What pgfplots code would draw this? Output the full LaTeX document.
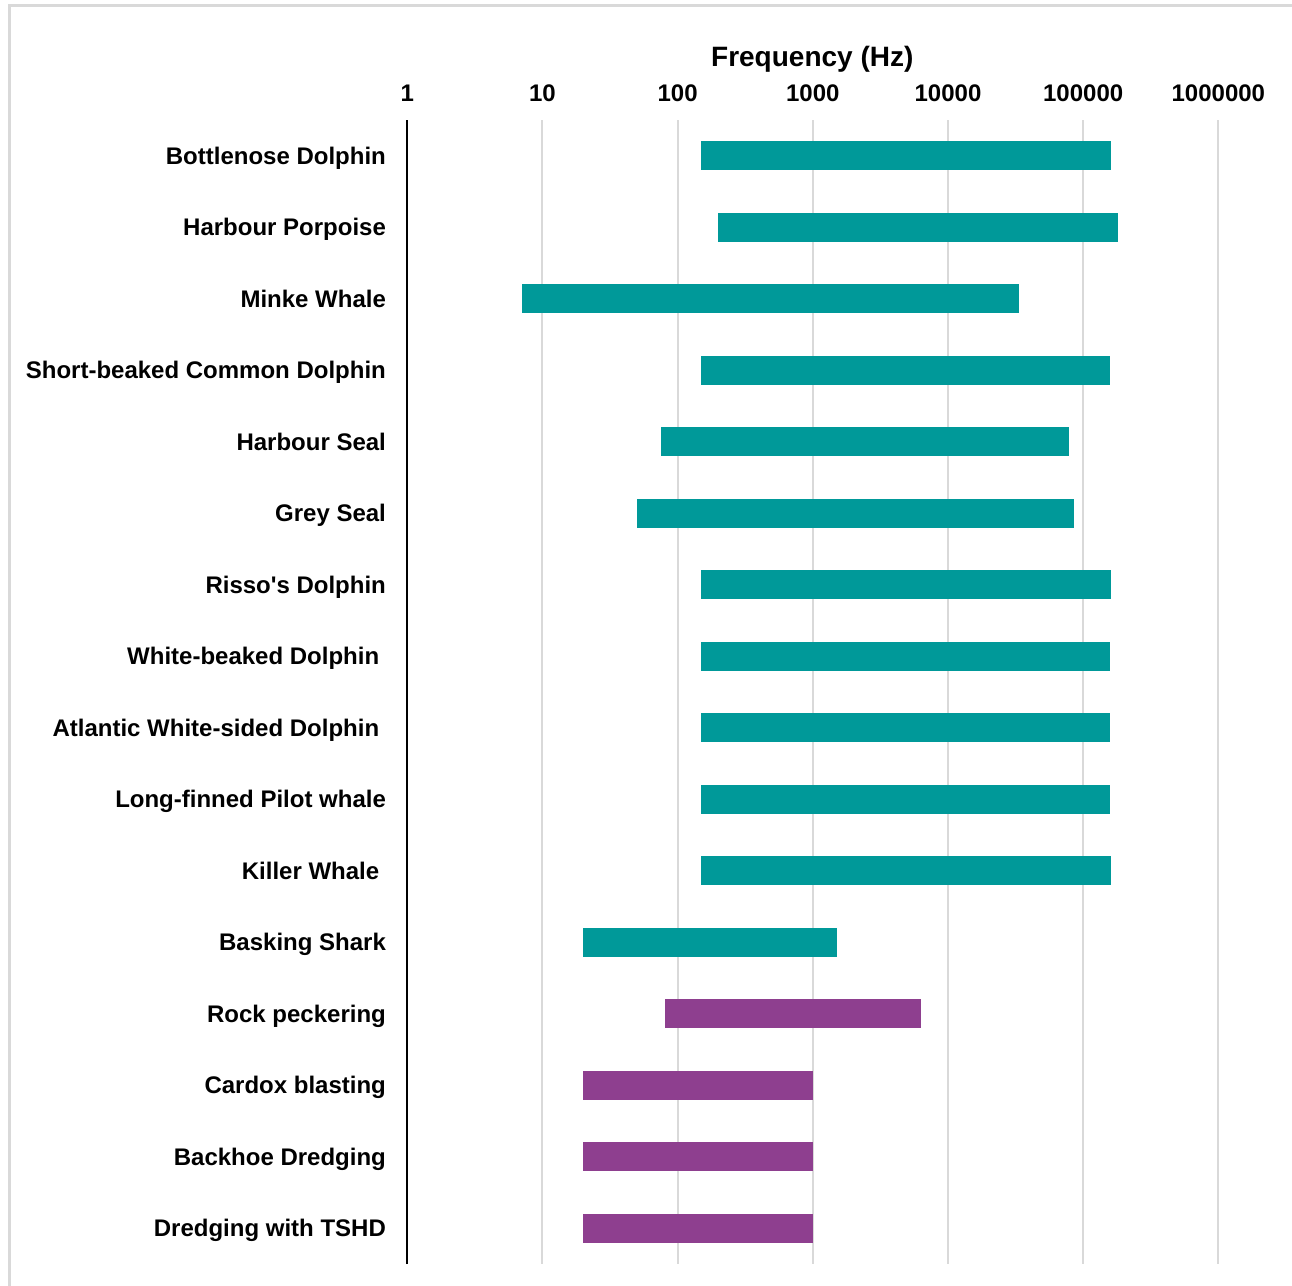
\documentclass[border=0pt]{standalone}
\usepackage{pgfplots}
\pgfplotsset{compat=1.18}
\usepackage{fontspec}
\setmainfont{Liberation Sans}
\definecolor{barteal}{HTML}{009999}
\definecolor{barpurple}{HTML}{8E3F8F}
\definecolor{gridgray}{HTML}{D9D9D9}
\begin{document}
\begin{tikzpicture}
\path[use as bounding box] (0,0) rectangle (646bp,643bp);
\draw[gridgray, line width=1.5bp] (4.5bp,-20bp) -- (4.5bp,640bp) -- (700bp,640bp);
\begin{axis}[
  at={(203.65bp,11bp)}, anchor=south west,
  scale only axis, width=450bp, height=572bp,
  clip=false,
  xmode=log, log basis x=10,
  xmin=1, xmax=4550000,
  ymin=-0.5, ymax=15.5, y dir=reverse,
  axis line style={draw=none},
  major tick length=0pt,
  xtick={1,10,100,1000,10000,100000,1000000},
  xticklabels={1,10,100,1000,10000,100000,1000000},
  xticklabel pos=upper,
  xticklabel style={anchor=base, yshift=9.25bp, font=\bfseries\fontsize{12bp}{14bp}\selectfont},
  xmajorgrids, major grid style={gridgray, line width=1bp},
  ytick={0,...,15},
  yticklabels={Bottlenose Dolphin, Harbour Porpoise, Minke Whale, Short-beaked Common Dolphin, Harbour Seal, Grey Seal, Risso\textquotesingle s Dolphin, White-beaked Dolphin\hspace*{0.278em}, Atlantic White-sided Dolphin\hspace*{0.278em}, Long-finned Pilot whale, Killer Whale\hspace*{0.278em}, Basking Shark, Rock peckering, Cardox blasting, Backhoe Dredging, Dredging with TSHD},
  yticklabel style={anchor=base east, inner sep=0pt, xshift=-10.5bp, yshift=-4.25bp, font=\bfseries\fontsize{12bp}{14bp}\selectfont},
  title={Frequency (Hz)},
  title style={at={(0.450,1)}, anchor=center, yshift=24.5bp, inner sep=0pt, font=\bfseries\fontsize{14bp}{16bp}\selectfont},
]
\addplot[fill=barteal, draw=none] coordinates {(150,-0.2) (160000,-0.2) (160000,0.2) (150,0.2)};
\addplot[fill=barteal, draw=none] coordinates {(200,0.8) (180000,0.8) (180000,1.2) (200,1.2)};
\addplot[fill=barteal, draw=none] coordinates {(7,1.8) (33500,1.8) (33500,2.2) (7,2.2)};
\addplot[fill=barteal, draw=none] coordinates {(150,2.8) (158000,2.8) (158000,3.2) (150,3.2)};
\addplot[fill=barteal, draw=none] coordinates {(75,3.8) (79000,3.8) (79000,4.2) (75,4.2)};
\addplot[fill=barteal, draw=none] coordinates {(50,4.8) (85000,4.8) (85000,5.2) (50,5.2)};
\addplot[fill=barteal, draw=none] coordinates {(150,5.8) (160000,5.8) (160000,6.2) (150,6.2)};
\addplot[fill=barteal, draw=none] coordinates {(150,6.8) (158000,6.8) (158000,7.2) (150,7.2)};
\addplot[fill=barteal, draw=none] coordinates {(150,7.8) (158000,7.8) (158000,8.2) (150,8.2)};
\addplot[fill=barteal, draw=none] coordinates {(150,8.8) (158000,8.8) (158000,9.2) (150,9.2)};
\addplot[fill=barteal, draw=none] coordinates {(150,9.8) (160000,9.8) (160000,10.2) (150,10.2)};
\addplot[fill=barteal, draw=none] coordinates {(20,10.8) (1500,10.8) (1500,11.2) (20,11.2)};
\addplot[fill=barpurple, draw=none] coordinates {(80,11.8) (6300,11.8) (6300,12.2) (80,12.2)};
\addplot[fill=barpurple, draw=none] coordinates {(20,12.8) (1000,12.8) (1000,13.2) (20,13.2)};
\addplot[fill=barpurple, draw=none] coordinates {(20,13.8) (1000,13.8) (1000,14.2) (20,14.2)};
\addplot[fill=barpurple, draw=none] coordinates {(20,14.8) (1000,14.8) (1000,15.2) (20,15.2)};
\draw[black, line width=1bp] (rel axis cs:0,0) -- (rel axis cs:0,1);
\end{axis}
\end{tikzpicture}
\end{document}
